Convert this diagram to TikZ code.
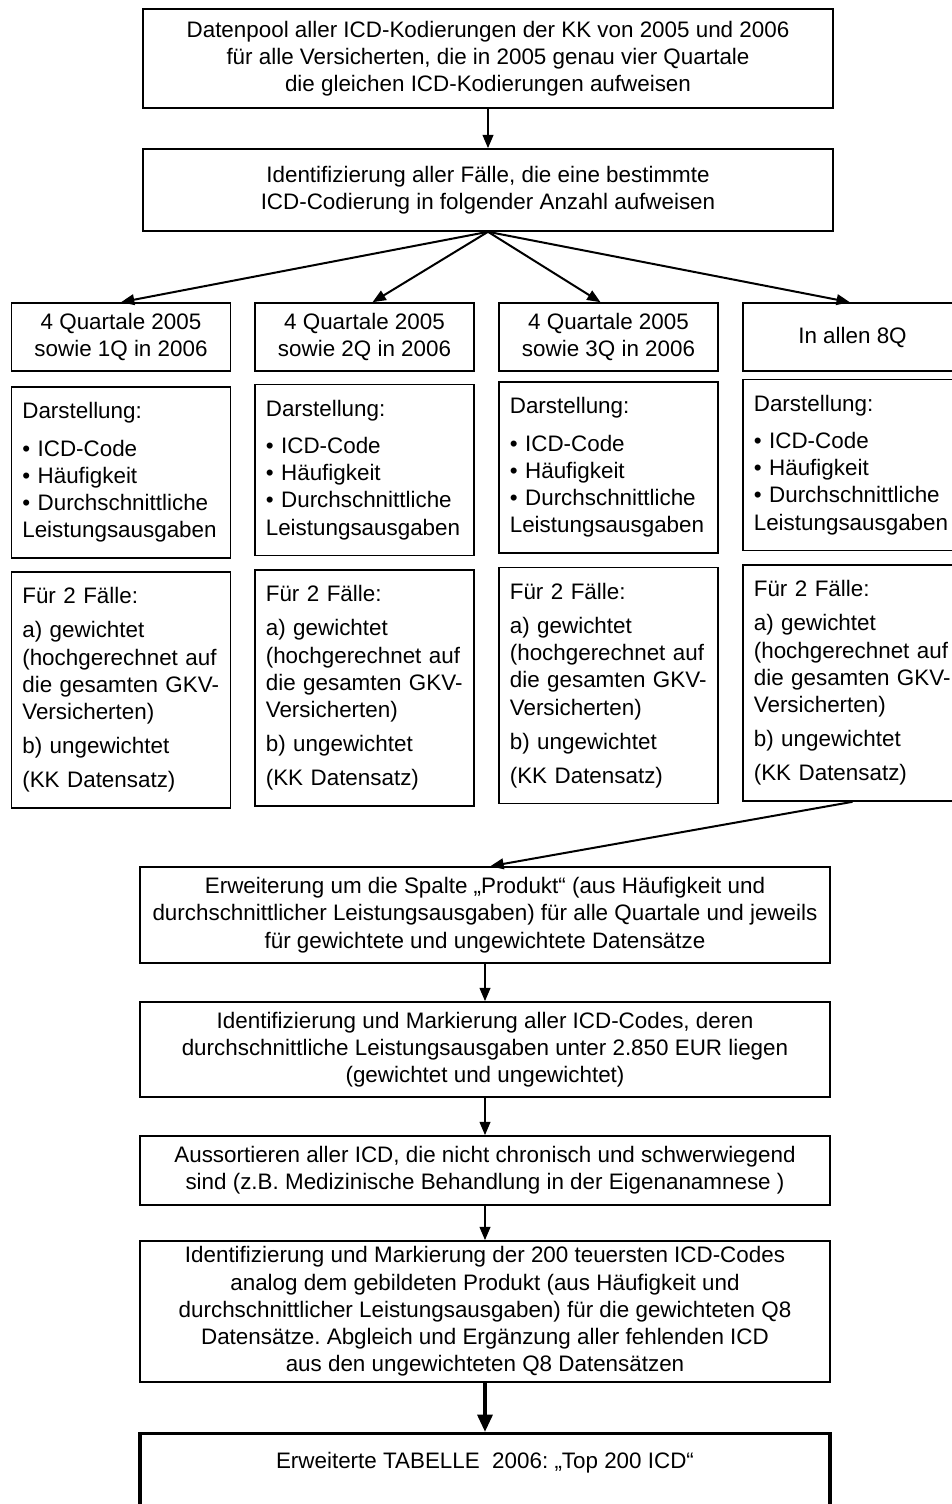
\documentclass[tikz,border=0pt]{standalone}
\usepackage{fontspec}
\setmainfont{Liberation Sans}
\frenchspacing
\usetikzlibrary{arrows.meta, positioning}
\tikzset{
  every picture/.style={x=0.75pt, y=-0.75pt, line width=1.2pt},
  every node/.style={font=\fontsize{16.8}{20.4}\selectfont},
  box/.style={draw, align=center, inner xsep=6pt, inner ysep=2pt, minimum width=517.5pt},
  titlebox/.style={draw, align=center, inner sep=2pt, minimum width=164pt, minimum height=51pt},
  listbox/.style={draw, align=left, inner xsep=8pt, inner ysep=2pt, text width=148pt},
  arrow/.style={-{Triangle[length=10pt, width=8pt]}, line width=1.5pt},
  bigarrow/.style={-{Triangle[length=13pt, width=11pt]}, line width=3pt},
}

\begin{document}
\begin{tikzpicture}
  \clip (0,0) rectangle (952,1504);
  \fill[white] (0,0) rectangle (952,1504);
  % top
  \node[box, minimum height=74.25pt] (pool) at (488,58.5) {Datenpool aller ICD-Kodierungen der KK von 2005 und 2006\\für alle Versicherten, die in 2005 genau vier Quartale\\die gleichen ICD-Kodierungen aufweisen};
  \node[box, minimum height=61.5pt] (ident) at (488,190) {Identifizierung aller Fälle, die eine bestimmte\\ICD-Codierung in folgender Anzahl aufweisen};
  % columns
  \node[titlebox] (qA) at (121,337) {4 Quartale 2005\\sowie 1Q in 2006};
  \node[titlebox] (qB) at (364.5,337) {4 Quartale 2005\\sowie 2Q in 2006};
  \node[titlebox] (qC) at (608.5,337) {4 Quartale 2005\\sowie 3Q in 2006};
  \node[titlebox] (qD) at (852.5,337) {In allen 8Q};
  \node[listbox, minimum height=128.25pt] (dA) at (121,472.5) {Darstellung:\\[7.5pt]• ICD-Code\\• Häufigkeit\\• Durchschnittliche\\Leistungsausgaben};
  \node[listbox, minimum height=128.25pt] (dB) at (364.5,470) {Darstellung:\\[7.5pt]• ICD-Code\\• Häufigkeit\\• Durchschnittliche\\Leistungsausgaben};
  \node[listbox, minimum height=128.25pt] (dC) at (608.5,467.5) {Darstellung:\\[7.5pt]• ICD-Code\\• Häufigkeit\\• Durchschnittliche\\Leistungsausgaben};
  \node[listbox, minimum height=128.25pt] (dD) at (852.5,465) {Darstellung:\\[7.5pt]• ICD-Code\\• Häufigkeit\\• Durchschnittliche\\Leistungsausgaben};
  \node[listbox, minimum height=177pt] (fA) at (121,690) {Für 2 Fälle:\\[5.25pt]a) gewichtet\\(hochgerechnet auf\\die gesamten GKV-\\Versicherten)\\[5.25pt]b) ungewichtet\\[5.25pt](KK Datensatz)};
  \node[listbox, minimum height=177pt] (fB) at (364.5,688) {Für 2 Fälle:\\[5.25pt]a) gewichtet\\(hochgerechnet auf\\die gesamten GKV-\\Versicherten)\\[5.25pt]b) ungewichtet\\[5.25pt](KK Datensatz)};
  \node[listbox, minimum height=177pt] (fC) at (608.5,685.5) {Für 2 Fälle:\\[5.25pt]a) gewichtet\\(hochgerechnet auf\\die gesamten GKV-\\Versicherten)\\[5.25pt]b) ungewichtet\\[5.25pt](KK Datensatz)};
  \node[listbox, minimum height=177pt] (fD) at (852.5,683) {Für 2 Fälle:\\[5.25pt]a) gewichtet\\(hochgerechnet auf\\die gesamten GKV-\\Versicherten)\\[5.25pt]b) ungewichtet\\[5.25pt](KK Datensatz)};
  % lower chain
  \node[box, minimum height=72pt] (ext) at (485,915) {Erweiterung um die Spalte „Produkt“ (aus Häufigkeit und\\durchschnittlicher Leistungsausgaben) für alle Quartale und jeweils\\für gewichtete und ungewichtete Datensätze};
  \node[box, minimum height=71.25pt] (mark) at (485,1049.5) {Identifizierung und Markierung aller ICD-Codes, deren\\durchschnittliche Leistungsausgaben unter 2.850 EUR liegen\\(gewichtet und ungewichtet)};
  \node[box, minimum height=51.75pt] (sort) at (485,1170.5) {Aussortieren aller ICD, die nicht chronisch und schwerwiegend\\sind (z.B. Medizinische Behandlung in der Eigenanamnese )};
  \node[box, minimum height=105.75pt] (top) at (485,1311.5) {Identifizierung und Markierung der 200 teuersten ICD-Codes\\analog dem gebildeten Produkt (aus Häufigkeit und\\durchschnittlicher Leistungsausgaben) für die gewichteten Q8\\Datensätze. Abgleich und Ergänzung aller fehlenden ICD\\aus den ungewichteten Q8 Datensätzen};
  \node[box, line width=2.4pt, anchor=north, inner ysep=0pt, text height=26.25pt, text depth=50pt] (res) at (485,1432) {Erweiterte TABELLE\ \ 2006: „Top 200 ICD“};
  % arrows
  \draw[arrow] (pool) -- (ident);
  \draw[arrow] (ident.south) -- (qA.north);
  \draw[arrow] (ident.south) -- ([xshift=6pt]qB.north);
  \draw[arrow] (ident.south) -- ([xshift=-6pt]qC.north);
  \draw[arrow] (ident.south) -- ([xshift=-2pt]qD.north);
  \draw[arrow] (fD.south) -- ([xshift=4pt]ext.north);
  \draw[arrow] (ext) -- (mark);
  \draw[arrow] (mark) -- (sort);
  \draw[arrow] (sort) -- (top);
  \draw[bigarrow] (top) -- (res);
\end{tikzpicture}
\end{document}
